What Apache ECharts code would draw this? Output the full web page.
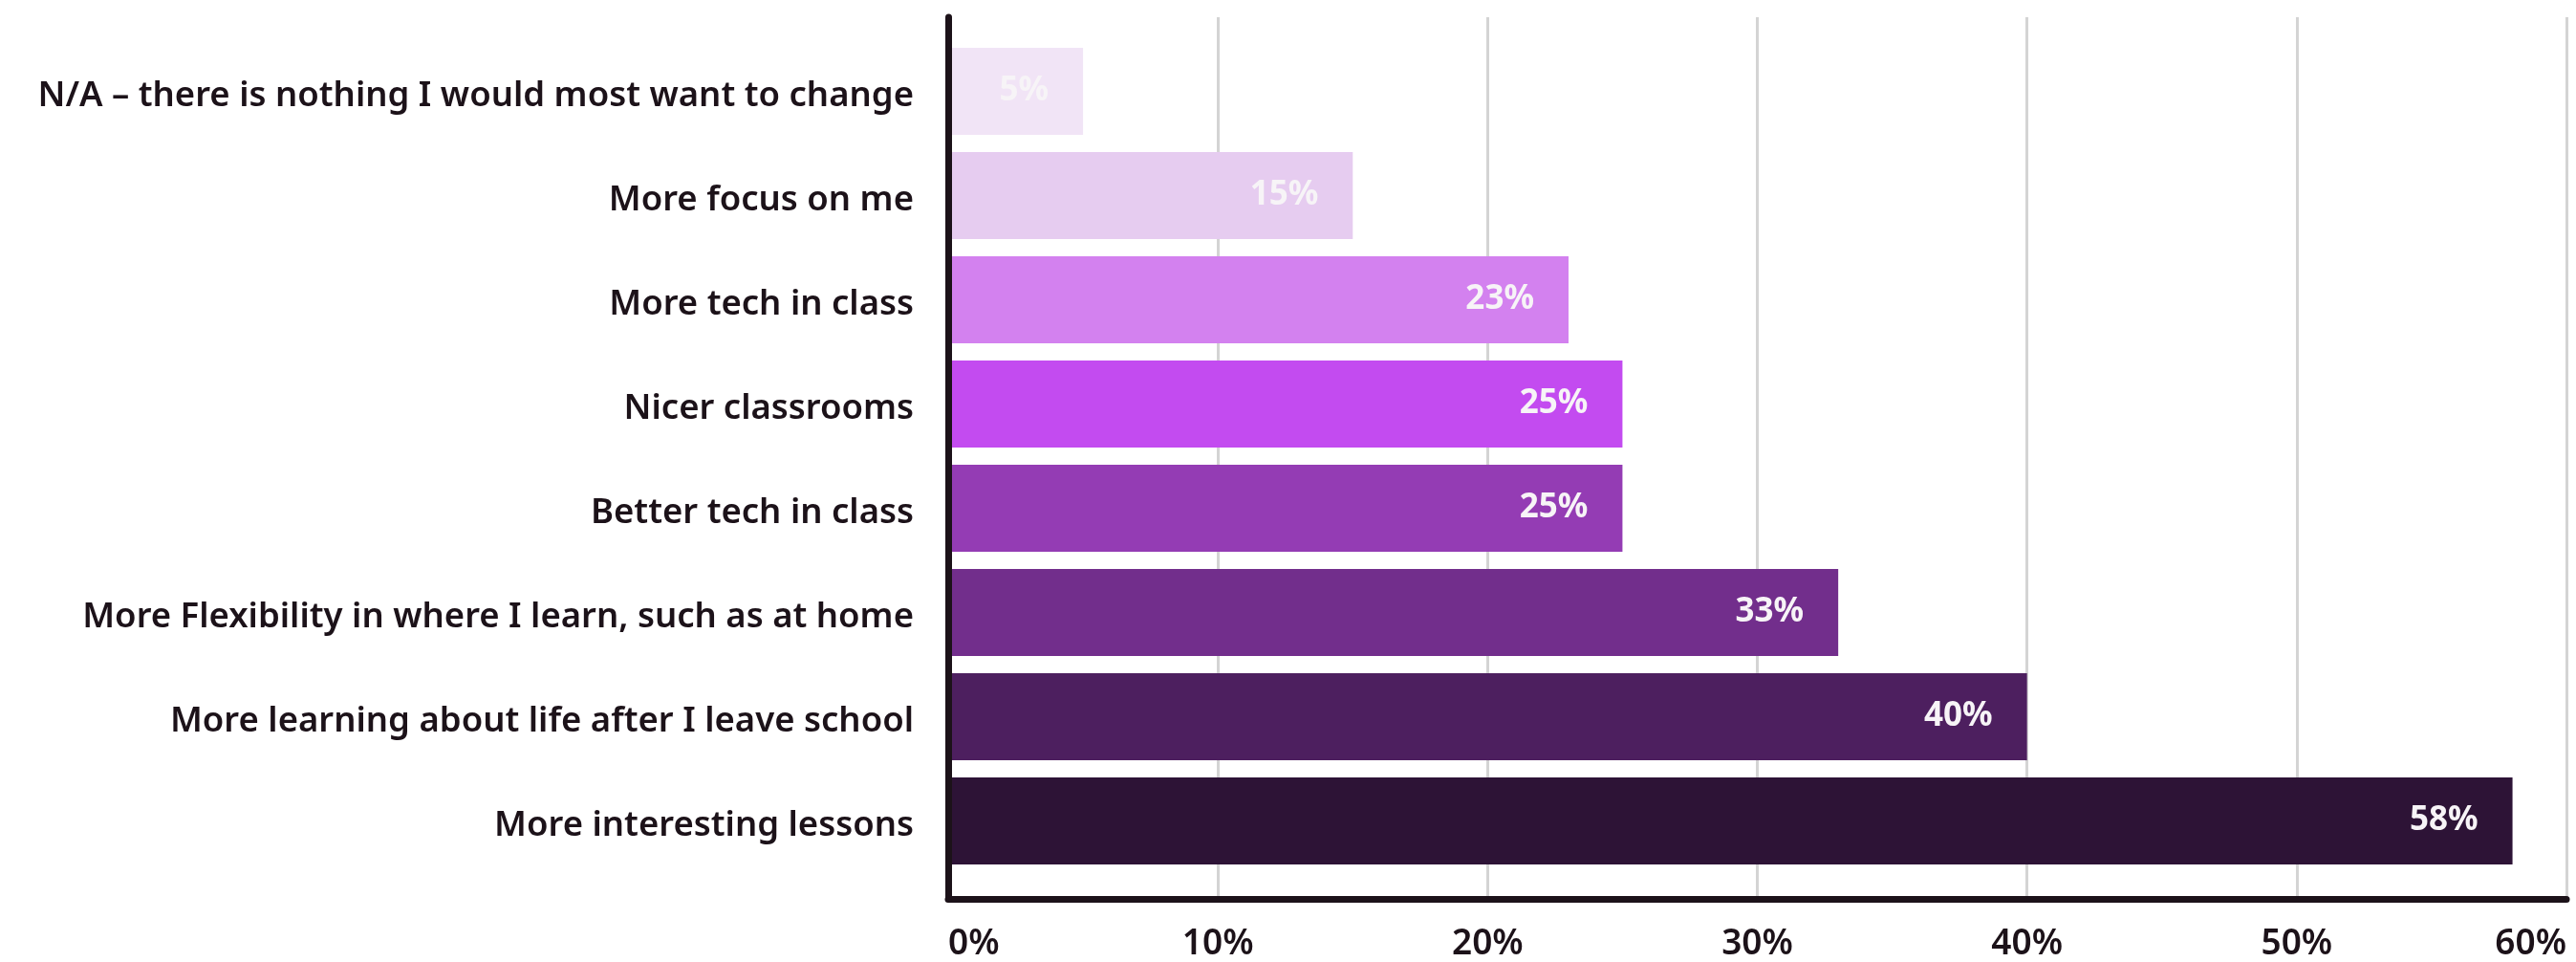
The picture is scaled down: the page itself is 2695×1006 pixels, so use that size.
<!DOCTYPE html>
<html>
<head>
<meta charset="utf-8">
<script src="https://cdn.jsdelivr.net/npm/echarts@6/dist/echarts.min.js"></script>
<style>
  html, body { margin: 0; padding: 0; background: #ffffff; }
  #chart { width: 2695px; height: 1006px; }
</style>
</head>
<body>
<div id="chart"></div>
<script>
// Survey answers, top to bottom
const categories = [
  'N/A \u2013 there is nothing I would most want to change',
  'More focus on me',
  'More tech in class',
  'Nicer classrooms',
  'Better tech in class',
  'More Flexibility in where I learn, such as at home',
  'More learning about life after I leave school',
  'More interesting lessons'
];
// Share of respondents (%)
const values = [5, 15, 23, 25, 25, 33, 40, 58];
// One shade per bar, light to dark
const barColors = [
  '#f1e4f6', '#e6ccf0', '#d381ef', '#c34bf0',
  '#943cb4', '#722e8c', '#4d1f5f', '#2d1336'
];
// Percentage scale
const xMin = 0;
const xMax = 60;
const xStep = 10;

const FONT = 'Noto Sans';
const INK = '#1c1219';

const chart = echarts.init(document.getElementById('chart'), null, { renderer: 'canvas' });

chart.setOption({
  backgroundColor: '#ffffff',
  animation: false,
  grid: [
    // frame: axis lines, gridlines and tick labels
    { left: 992, right: 10, top: 18, bottom: 61 },
    // bars sit in a slightly inset band area
    { left: 992, right: 10, top: 41, bottom: 93 }
  ],
  xAxis: [
    {
      gridIndex: 0,
      type: 'value',
      min: xMin,
      max: xMax,
      interval: xStep,
      axisLine: { show: true, lineStyle: { color: INK, width: 7 } },
      axisTick: { show: false },
      splitLine: { show: true, lineStyle: { color: '#d4d4d4', width: 3 } },
      axisLabel: {
        formatter: '{value}%',
        fontFamily: FONT,
        fontSize: 37,
        fontWeight: 600,
        color: INK,
        margin: 29,
        alignMinLabel: 'left',
        alignMaxLabel: 'right'
      }
    },
    {
      gridIndex: 1,
      type: 'value',
      min: xMin,
      max: xMax,
      show: false
    }
  ],
  yAxis: [
    {
      gridIndex: 0,
      type: 'value',
      z: 5,
      axisLine: { show: true, lineStyle: { color: INK, width: 7 } },
      axisTick: { show: false },
      axisLabel: { show: false },
      splitLine: { show: false }
    },
    {
      gridIndex: 1,
      type: 'category',
      inverse: true,
      data: categories,
      axisLine: { show: false },
      axisTick: { show: false },
      axisLabel: {
        fontFamily: FONT,
        fontSize: 36.5,
        fontWeight: 600,
        color: INK,
        margin: 36,
        verticalAlign: 'top',
        lineHeight: 10
      }
    }
  ],
  series: [
    {
      type: 'bar',
      xAxisIndex: 1,
      yAxisIndex: 1,
      z: 2,
      barCategoryGap: '16.5%',
      data: values.map((v, i) => ({ value: v, itemStyle: { color: barColors[i] } })),
      label: {
        show: true,
        position: 'insideRight',
        distance: 36,
        formatter: '{c}%',
        fontFamily: FONT,
        fontSize: 35,
        fontWeight: 'bold',
        color: '#f7f4f7'
      }
    }
  ]
});
</script>
</body>
</html>
